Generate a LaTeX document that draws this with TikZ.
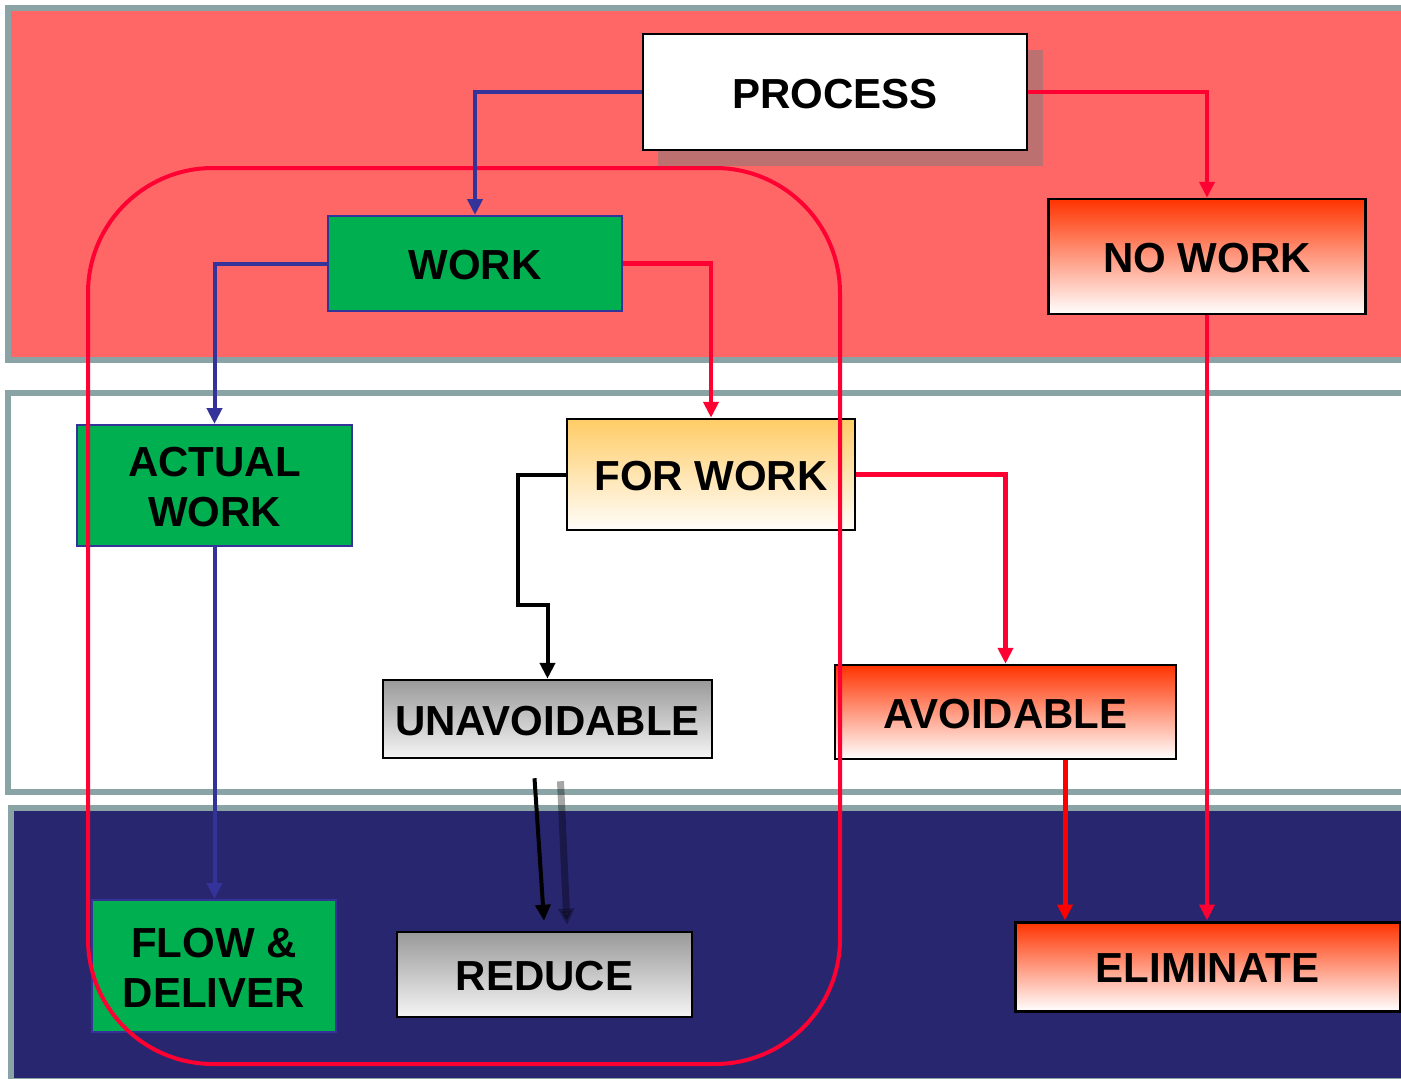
\documentclass[tikz,border=0pt]{standalone}
\usepackage{fontspec}
\setmainfont{Liberation Sans}
\usetikzlibrary{arrows.meta,calc}
\definecolor{bandred}{RGB}{255,102,102}
\definecolor{bandgray}{RGB}{138,163,165}
\definecolor{bandnavy}{RGB}{40,38,111}
\definecolor{shadowred}{RGB}{189,112,112}
\definecolor{boxgreen}{RGB}{0,176,80}
\definecolor{lineblue}{RGB}{51,51,153}
\definecolor{linered}{RGB}{255,0,51}
\definecolor{hotred}{RGB}{255,51,0}
\definecolor{gold}{RGB}{255,204,102}
\definecolor{midgray}{RGB}{153,153,153}
\definecolor{paleg}{RGB}{245,245,245}
\begin{document}
\begin{tikzpicture}[x=1pt,y=-1pt,
  band/.style={draw=bandgray,line width=5.5pt},
  boxtext/.style={inner sep=0pt,align=center,text=black,yshift=-2pt,
    font=\fontsize{42}{50}\selectfont\bfseries},
  box/.style={draw=black,line width=2.5pt,inner sep=0pt,label={[boxtext]center:{#1}}},
  greenbox/.style={box={#1},fill=boxgreen,draw=lineblue,line width=2pt},
  redbox/.style={box={#1},top color=hotred,bottom color=white},
  graybox/.style={box={#1},top color=midgray,bottom color=paleg},
  goldbox/.style={box={#1},top color=gold,bottom color=white!97!gold},
  tip/.style={-{Triangle[length=16pt,width=15pt]}},
  blueconn/.style={tip,draw=lineblue,line width=4pt},
  redconn/.style={tip,draw=linered,line width=4.5pt},
  blackconn/.style={tip,draw=black,line width=4pt},
  loopline/.style={draw=linered,line width=4pt,rounded corners=125pt}
]
\useasboundingbox (0,0) rectangle (1401,1079);
\clip (0,0) rectangle (1401,1079);
\fill[white] (0,0) rectangle (1401,1079);
% bands
\draw[band,fill=bandred] (8,8) rectangle (1420,360);
\draw[band,fill=white] (8,393) rectangle (1420,792);
\draw[band,fill=bandnavy] (11,808) rectangle (1420,1081);
% shadow of PROCESS
\fill[shadowred] (658,50) rectangle (1043,166);
% boxes
\node[box={PROCESS},fill=white,minimum width=384pt,minimum height=116pt] (proc) at (835,92) {};
\node[greenbox={WORK},minimum width=294pt,minimum height=95pt] (work) at (475,263.5) {};
\node[redbox={NO WORK},minimum width=317pt,minimum height=115pt] (nowork) at (1207,256.5) {};
\node[greenbox={ACTUAL\\WORK},minimum width=275pt,minimum height=121pt] (actual) at (214.5,485.5) {};
\node[goldbox={FOR WORK},minimum width=288pt,minimum height=111pt] (forwork) at (711,474.5) {};
\node[graybox={UNAVOIDABLE},minimum width=329pt,minimum height=78pt] (unav) at (547.5,719) {};
\node[redbox={AVOIDABLE},minimum width=341pt,minimum height=94pt] (avoid) at (1005.5,712) {};
\node[greenbox={FLOW \&\\DELIVER},minimum width=244pt,minimum height=132pt] (flow) at (214,966) {};
\node[graybox={REDUCE},minimum width=295pt,minimum height=85pt] (reduce) at (544.5,974.5) {};
\node[redbox={ELIMINATE},line width=3pt,minimum width=385pt,minimum height=89pt] (elim) at (1207.5,966.5) {};
% red loop
\draw[loopline] (88,168) rectangle (840,1064);
% connectors
\draw[blueconn] (proc.west) -| (work.north);
\draw[redconn] (proc.east) -| (nowork.north);
\draw[blueconn] (work.west) -| (actual.north);
\draw[redconn] (work.east) -| (forwork.north);
\draw[blackconn] (forwork.west) -- ++(-48,0) -- ++(0,130) -| (unav.north);
\draw[redconn] (forwork.east) -| (avoid.north);
\draw[blueconn] (actual.south) -- (actual.south |- flow.north);
\draw[redconn] (nowork.south) -- (nowork.south |- elim.north);
\coordinate (avoidout) at ($(avoid.south)+(59.5,0)$);
\draw[tip,draw=red,line width=5pt] (avoidout) -- (avoidout |- elim.north);
% UNAVOIDABLE -> REDUCE with its shadow
\coordinate (ua) at ($(unav.south)+(-13,19)$);
\coordinate (rd) at ($(reduce.north)+(-0.5,-10)$);
\coordinate (uas) at ($(ua)+(26,3)$);
\coordinate (rds) at ($(rd)+(23,4)$);
\draw[tip,draw=black,draw opacity=0.35,fill opacity=0.35,line width=7pt] (uas) -- (rds);
\draw[blackconn] (ua) -- (rd);
\end{tikzpicture}
\end{document}
